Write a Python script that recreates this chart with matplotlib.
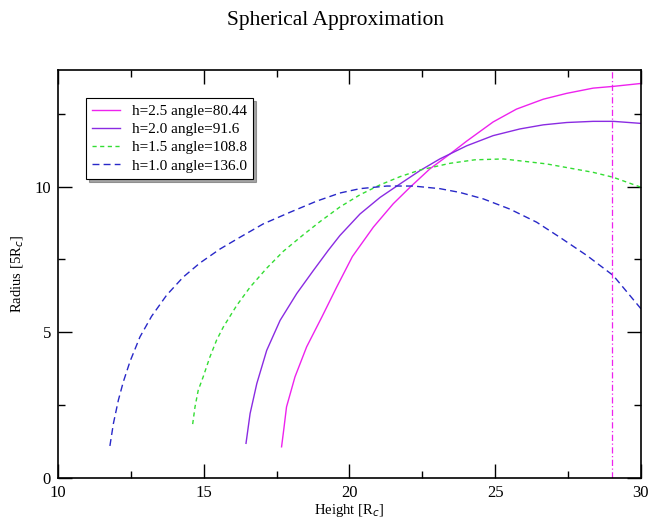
import matplotlib
matplotlib.use("Agg")
import matplotlib.pyplot as plt
from matplotlib.ticker import MultipleLocator

plt.rcParams['font.family'] = ['Liberation Serif', 'DejaVu Serif']

# arc traces: height vs radius for each h value
h25_x = [17.67, 17.75, 17.84, 18.13, 18.53, 19.05, 19.56, 20.10, 20.82, 21.50, 22.08, 22.76,
         23.45, 24.02, 24.93, 25.73, 26.65, 27.45, 28.36, 29.05, 30.0]
h25_y = [1.07, 1.70, 2.44, 3.47, 4.50, 5.52, 6.55, 7.60, 8.61, 9.41, 9.98, 10.61,
         11.12, 11.56, 12.22, 12.66, 13.0, 13.20, 13.38, 13.44, 13.54]

h20_x = [16.45, 16.59, 16.82, 17.16, 17.62, 18.19, 18.76, 19.27, 19.67, 20.36, 21.05, 21.73,
         22.42, 23.1, 24.02, 24.93, 25.85, 26.65, 27.45, 28.36, 29.05, 30.0]
h20_y = [1.19, 2.21, 3.24, 4.38, 5.41, 6.33, 7.12, 7.81, 8.32, 9.06, 9.63, 10.09,
         10.55, 10.95, 11.40, 11.75, 11.98, 12.12, 12.20, 12.24, 12.24, 12.17]

h15_x = [14.62, 14.70, 14.81, 14.98, 15.21, 15.44, 15.67, 16.13, 16.59, 17.16, 17.73, 18.42,
         18.99, 19.67, 20.36, 21.05, 21.73, 22.42, 23.45, 24.30, 25.28, 26.76, 28.36, 29.05, 30.0]
h15_y = [1.85, 2.44, 3.01, 3.47, 4.15, 4.73, 5.18, 5.92, 6.55, 7.20, 7.78, 8.35,
         8.80, 9.30, 9.72, 10.06, 10.34, 10.57, 10.80, 10.92, 10.95, 10.78, 10.49, 10.32, 9.98]

h10_x = [11.78, 11.90, 12.07, 12.24, 12.47, 12.81, 13.21, 13.73, 14.30, 14.87, 15.56, 16.24,
         17.04, 17.96, 18.87, 19.67, 20.36, 21.28, 22.19, 23.1, 23.79, 24.59, 25.5, 26.42,
         27.22, 28.14, 29.05, 30.0]
h10_y = [1.10, 1.87, 2.67, 3.30, 4.00, 4.84, 5.55, 6.28, 6.90, 7.38, 7.86, 8.26,
         8.72, 9.12, 9.50, 9.78, 9.93, 10.02, 10.02, 9.93, 9.8, 9.58, 9.23, 8.78,
         8.26, 7.64, 6.95, 5.81]

cut_x = 29.0

fig = plt.figure(figsize=(6.52, 5.19), dpi=100)
ax = fig.add_axes([0.089, 0.079, 0.894, 0.786])

ax.plot(h25_x, h25_y, color='#ee22ee', lw=1.0, label='h=2.5 angle=80.44')
ax.plot(h20_x, h20_y, color='#8a2be2', lw=1.0, label='h=2.0 angle=91.6')
ax.plot(h15_x, h15_y, color='#33dd33', lw=1.0, ls=(0, (3, 2.5)), label='h=1.5 angle=108.8')
ax.plot(h10_x, h10_y, color='#2828c8', lw=1.0, ls=(0, (5, 3)), label='h=1.0 angle=136.0')
ax.axvline(cut_x, color='#ee22ee', lw=0.9, ls=(0, (5, 2, 1, 2)))

ax.set_xlim(10, 30)
ax.set_ylim(0, 14)
ax.xaxis.set_major_locator(MultipleLocator(5))
ax.xaxis.set_minor_locator(MultipleLocator(2.5))
ax.yaxis.set_major_locator(MultipleLocator(5))
ax.yaxis.set_minor_locator(MultipleLocator(2.5))
ax.tick_params(which='both', direction='in', top=True, right=True, width=1.0)
ax.tick_params(which='major', length=10, labelsize=12, pad=5)
ax.tick_params(which='minor', length=5)
for s in ax.spines.values():
    s.set_linewidth(1.2)

ax.set_xlabel('Height [R$_c$]', fontsize=10.5, labelpad=1)
ax.set_ylabel('Radius [5R$_c$]', fontsize=10.5, labelpad=6)
fig.text(0.514, 0.96, 'Spherical Approximation', fontsize=15.5, ha='center', va='center')

leg = ax.legend(loc='upper left', bbox_to_anchor=(0.035, 0.95), fontsize=11,
                frameon=True, fancybox=False, shadow=True, handlelength=1.8,
                borderpad=0.4, labelspacing=0.3, handletextpad=0.8)
leg.get_frame().set_edgecolor('black')
leg.get_frame().set_linewidth(0.8)

fig.savefig('out.png', dpi=100)
